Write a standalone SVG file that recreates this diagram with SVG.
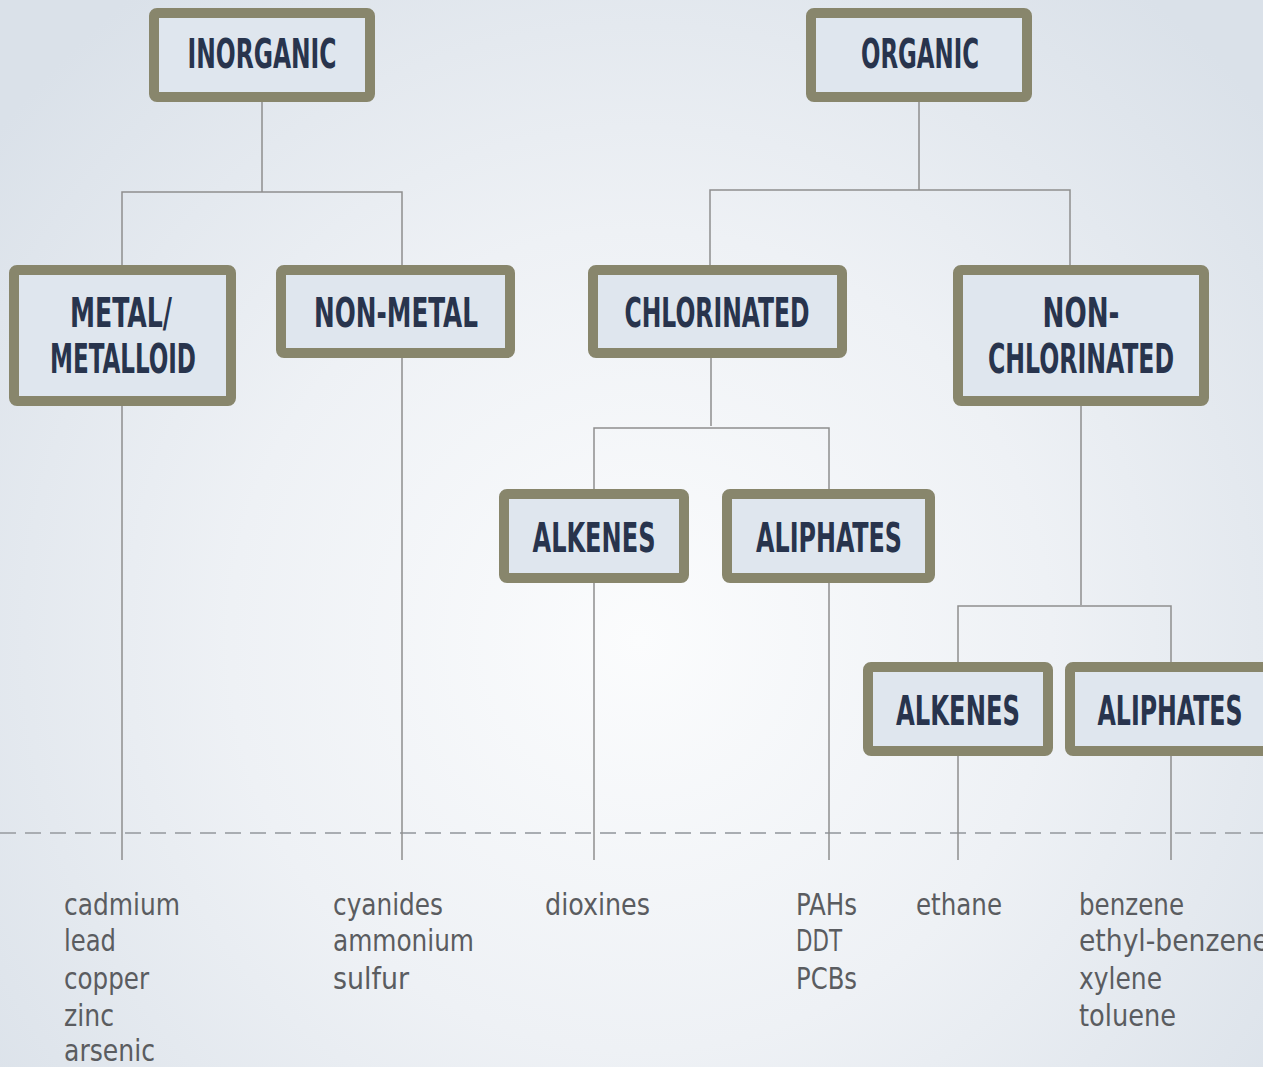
<svg xmlns="http://www.w3.org/2000/svg" width="1263" height="1067" viewBox="0 0 1263 1067">
<defs>
<radialGradient id="bg" cx="640" cy="640" r="820" gradientUnits="userSpaceOnUse">
<stop offset="0" stop-color="#fbfcfd"/>
<stop offset="0.5" stop-color="#eef1f5"/>
<stop offset="1" stop-color="#dae1e9"/>
</radialGradient>
<style>
.box{fill:#dfe6ee;stroke:#88866c;stroke-width:10}
.lbl{font-family:"DejaVu Sans Condensed","Liberation Sans Narrow","Liberation Sans",sans-serif;font-weight:bold;font-size:40px;fill:#28344d;text-anchor:middle}
.leaf{font-family:"DejaVu Sans Condensed","Liberation Sans Narrow","Liberation Sans",sans-serif;font-size:30px;fill:#5a5c60}
.ln{fill:none;stroke:#8e8e8e;stroke-width:1.5}
.dash{fill:none;stroke:#a9adb2;stroke-width:2;stroke-dasharray:16 9}
</style>
</defs>
<rect width="1263" height="1067" fill="url(#bg)"/>
<line class="dash" x1="0" y1="833" x2="1263" y2="833"/>
<g id="connectors">
<path class="ln" d="M262 102V192M122 265V192H402V265"/>
<path class="ln" d="M919 102V190M710 265V190H1070V265"/>
<path class="ln" d="M711 358V426M594 489V428H829V489"/>
<path class="ln" d="M1081 406V605M958 662V606H1171V662"/>
<path class="ln" d="M122 406V860M402 358V860M594 583V860M829 583V860M958 756V860M1171 756V860"/>
</g>
<g id="inorganic"><rect class="box" x="154" y="13" width="216" height="84" rx="3"/><text class="lbl" x="262" y="68" textLength="149" lengthAdjust="spacingAndGlyphs">INORGANIC</text></g>
<g id="organic"><rect class="box" x="811" y="13" width="216" height="84" rx="3"/><text class="lbl" x="920" y="68" textLength="118" lengthAdjust="spacingAndGlyphs">ORGANIC</text></g>
<g id="metal"><rect class="box" x="14" y="270" width="217" height="131" rx="3"/><text class="lbl" x="121" y="327" textLength="102" lengthAdjust="spacingAndGlyphs">METAL/</text><text class="lbl" x="123" y="373" textLength="146" lengthAdjust="spacingAndGlyphs">METALLOID</text></g>
<g id="nonmetal"><rect class="box" x="281" y="270" width="229" height="83" rx="3"/><text class="lbl" x="396" y="327" textLength="164" lengthAdjust="spacingAndGlyphs">NON-METAL</text></g>
<g id="chlorinated"><rect class="box" x="593" y="270" width="249" height="83" rx="3"/><text class="lbl" x="717" y="327" textLength="185" lengthAdjust="spacingAndGlyphs">CHLORINATED</text></g>
<g id="nonchlorinated"><rect class="box" x="958" y="270" width="246" height="131" rx="3"/><text class="lbl" x="1081" y="327" textLength="77" lengthAdjust="spacingAndGlyphs">NON-</text><text class="lbl" x="1081" y="373" textLength="186" lengthAdjust="spacingAndGlyphs">CHLORINATED</text></g>
<g id="alkenes1"><rect class="box" x="504" y="494" width="180" height="84" rx="3"/><text class="lbl" x="594" y="552" textLength="123" lengthAdjust="spacingAndGlyphs">ALKENES</text></g>
<g id="aliphates1"><rect class="box" x="727" y="494" width="203" height="84" rx="3"/><text class="lbl" x="829" y="552" textLength="146" lengthAdjust="spacingAndGlyphs">ALIPHATES</text></g>
<g id="alkenes2"><rect class="box" x="868" y="667" width="180" height="84" rx="3"/><text class="lbl" x="958" y="725" textLength="124" lengthAdjust="spacingAndGlyphs">ALKENES</text></g>
<g id="aliphates2"><rect class="box" x="1070" y="667" width="210" height="84" rx="3"/><text class="lbl" x="1170" y="725" textLength="145" lengthAdjust="spacingAndGlyphs">ALIPHATES</text></g>
<g id="leaves">
<text class="leaf" x="64" y="915" textLength="116" lengthAdjust="spacingAndGlyphs">cadmium</text>
<text class="leaf" x="64" y="951" textLength="52" lengthAdjust="spacingAndGlyphs">lead</text>
<text class="leaf" x="64" y="989" textLength="85" lengthAdjust="spacingAndGlyphs">copper</text>
<text class="leaf" x="64" y="1026" textLength="50" lengthAdjust="spacingAndGlyphs">zinc</text>
<text class="leaf" x="64" y="1061" textLength="91" lengthAdjust="spacingAndGlyphs">arsenic</text>
<text class="leaf" x="333" y="915" textLength="110" lengthAdjust="spacingAndGlyphs">cyanides</text>
<text class="leaf" x="333" y="951" textLength="141" lengthAdjust="spacingAndGlyphs">ammonium</text>
<text class="leaf" x="333" y="989" textLength="76" lengthAdjust="spacingAndGlyphs">sulfur</text>
<text class="leaf" x="545" y="915" textLength="105" lengthAdjust="spacingAndGlyphs">dioxines</text>
<text class="leaf" x="796" y="915" textLength="61" lengthAdjust="spacingAndGlyphs">PAHs</text>
<text class="leaf" x="796" y="951" textLength="46" lengthAdjust="spacingAndGlyphs">DDT</text>
<text class="leaf" x="796" y="989" textLength="61" lengthAdjust="spacingAndGlyphs">PCBs</text>
<text class="leaf" x="916" y="915" textLength="86" lengthAdjust="spacingAndGlyphs">ethane</text>
<text class="leaf" x="1079" y="915" textLength="105" lengthAdjust="spacingAndGlyphs">benzene</text>
<text class="leaf" x="1079" y="951" textLength="190" lengthAdjust="spacingAndGlyphs">ethyl-benzene</text>
<text class="leaf" x="1079" y="989" textLength="83" lengthAdjust="spacingAndGlyphs">xylene</text>
<text class="leaf" x="1079" y="1026" textLength="97" lengthAdjust="spacingAndGlyphs">toluene</text>
</g>
</svg>
